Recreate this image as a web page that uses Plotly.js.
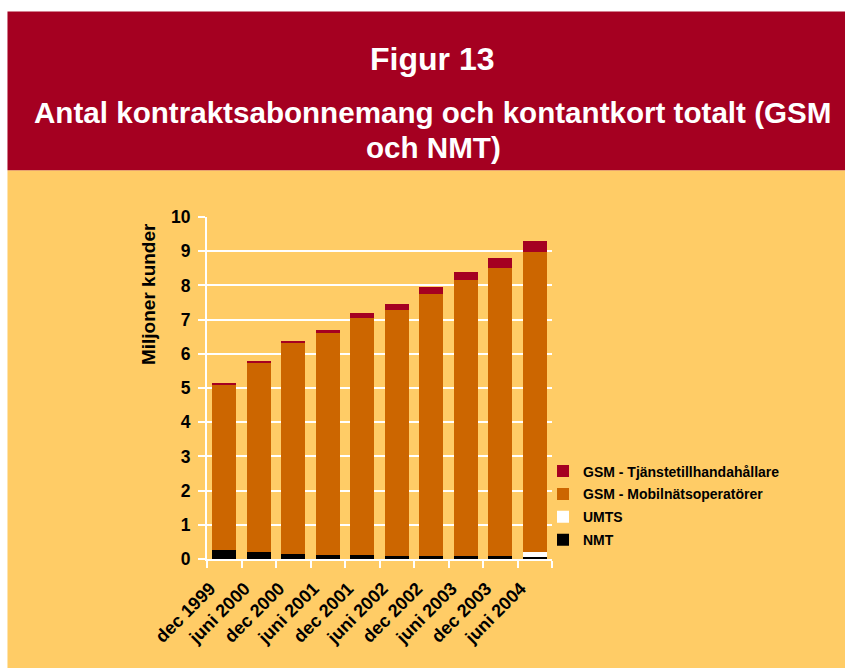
<!DOCTYPE html>
<html>
<head>
<meta charset="utf-8">
<script src="https://cdn.plot.ly/plotly-3.0.1.min.js"></script>
<style>
html,body{margin:0;padding:0;background:#ffffff;}
#chart{width:845px;height:668px;}
</style>
</head>
<body>
<div id="chart"></div>
<script>
// ---- data ----
var categories = ['dec 1999','juni 2000','dec 2000','juni 2001','dec 2001','juni 2002','dec 2002','juni 2003','dec 2003','juni 2004'];
var nmt    = [0.27, 0.20, 0.15, 0.12, 0.11, 0.10, 0.10, 0.10, 0.09, 0.07];
var umts   = [0, 0, 0, 0, 0, 0, 0, 0, 0.01, 0.13];
var gsmMob = [4.82, 5.52, 6.17, 6.48, 6.94, 7.18, 7.66, 8.05, 8.40, 8.77];
var gsmTj  = [0.06, 0.06, 0.06, 0.10, 0.14, 0.18, 0.18, 0.23, 0.29, 0.32];
var seriesNames = ['NMT', 'UMTS', 'GSM - Mobilnätsoperatörer', 'GSM - Tjänstetillhandahållare'];
var yTicks = [0,1,2,3,4,5,6,7,8,9,10];
var figTitle = 'Figur 13';
var subTitle1 = 'Antal kontraktsabonnemang och kontantkort totalt (GSM';
var subTitle2 = 'och NMT)';
var yTitle = 'Miljoner kunder';

// ---- geometry ----
var W = 845, H = 668;
var L = 206.7, R = 552, T = 216.7, B = 559.2;
function px(x){ return (x - L) / (R - L); }
function py(y){ return (B - y) / (B - T); }

var RED = '#A50021', YEL = '#FFCC66', ORA = '#CC6600';
var FONT = 'Liberation Sans, Arial, sans-serif';

var colors = ['#000000', '#FFFFFF', ORA, RED];
var values = [nmt, umts, gsmMob, gsmTj];
var traces = values.map(function(v, i){
  return {
    type: 'bar', x: categories, y: v, name: seriesNames[i],
    legendgroup: 'g' + i,
    legendrank: 10 - i,
    marker: {color: colors[i], line: {width: 0}}
  };
});

var layout = {
  width: W, height: H,
  margin: {l: L, r: W - R, t: T, b: H - B, pad: 0},
  paper_bgcolor: '#FFFFFF',
  plot_bgcolor: 'rgba(0,0,0,0)',
  barmode: 'stack',
  bargap: 0.3,
  showlegend: true,
  font: {family: FONT, color: '#000000'},
  xaxis: {
    type: 'category',
    tickangle: -45,
    tickson: 'boundaries',
    ticks: 'outside', ticklen: 7, tickwidth: 2, tickcolor: '#FFFFFF',
    showline: true, linecolor: '#FFFFFF', linewidth: 2,
    showgrid: false,
    ticklabelstandoff: 10,
    ticklabelshift: -14,
    tickfont: {family: FONT, size: 18, color: '#000000', weight: 'bold'},
    fixedrange: true
  },
  yaxis: {
    range: [0, 10],
    tickvals: yTicks,
    ticks: 'outside', ticklen: 7, tickwidth: 2, tickcolor: '#FFFFFF',
    showline: true, linecolor: '#FFFFFF', linewidth: 2,
    showgrid: true, gridcolor: '#FFFFFF', gridwidth: 2,
    zeroline: false,
    ticklabelstandoff: 4,
    tickfont: {family: FONT, size: 17.5, color: '#000000', weight: 'bold'},
    fixedrange: true
  },
  legend: {
    x: px(543), y: py(455.5), xanchor: 'left', yanchor: 'top',
    bgcolor: 'rgba(0,0,0,0)',
    traceorder: 'grouped',
    tracegroupgap: 1.7,
    font: {family: FONT, size: 14, color: '#000000', weight: 'bold'}
  },
  shapes: [
    {type: 'rect', xref: 'paper', yref: 'paper', layer: 'below',
     x0: px(7), x1: px(W + 5), y0: py(170), y1: py(H + 5),
     fillcolor: YEL, line: {width: 0}},
    {type: 'rect', xref: 'paper', yref: 'paper', layer: 'below',
     x0: px(7), x1: px(W + 5), y0: py(11), y1: py(170),
     fillcolor: RED, line: {width: 0}}
  ],
  annotations: [
    {text: figTitle, xref: 'paper', yref: 'paper', x: px(432), y: py(58),
     xanchor: 'center', yanchor: 'middle', showarrow: false,
     font: {family: FONT, size: 32, color: '#FFFFFF', weight: 'bold'}},
    {text: subTitle1, xref: 'paper', yref: 'paper', x: px(432.5), y: py(112),
     xanchor: 'center', yanchor: 'middle', showarrow: false,
     font: {family: FONT, size: 29.6, color: '#FFFFFF', weight: 'bold'}},
    {text: subTitle2, xref: 'paper', yref: 'paper', x: px(433), y: py(147),
     xanchor: 'center', yanchor: 'middle', showarrow: false,
     font: {family: FONT, size: 29.6, color: '#FFFFFF', weight: 'bold'}},
    {text: yTitle, xref: 'paper', yref: 'paper', x: px(148), y: py(293.5),
     xanchor: 'center', yanchor: 'middle', textangle: -90, showarrow: false,
     font: {family: FONT, size: 19, color: '#000000', weight: 'bold'}}
  ]
};

Plotly.newPlot('chart', traces, layout, {displayModeBar: false, staticPlot: true});
</script>
</body>
</html>
